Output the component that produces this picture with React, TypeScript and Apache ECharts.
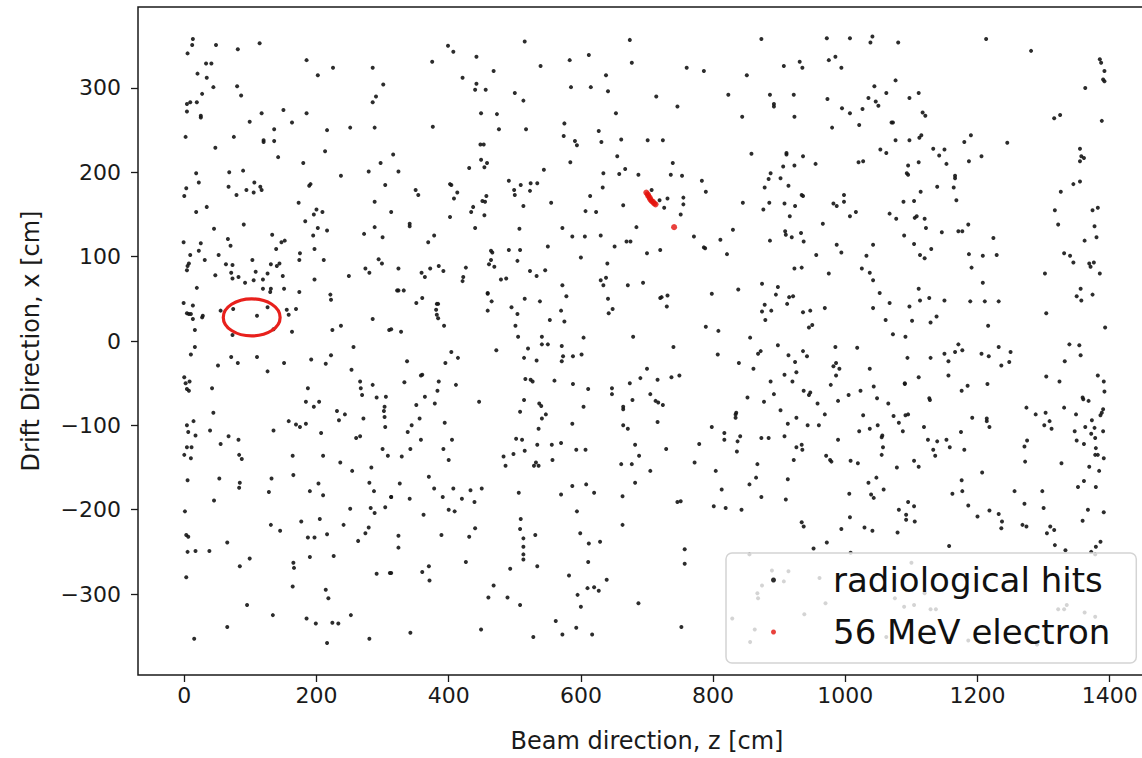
import React, { useEffect, useRef } from "react";
import * as echarts from "echarts";

const xTicks = [0, 200, 400, 600, 800, 1000, 1200, 1400];
const yTicks = [-300, -200, -100, 0, 100, 200, 300];
const xRange = [-70, 1470];
const yRange = [-396, 396];

const hitsTop: number[][] = [
  [13,358],[12,351],[48,351],[5,341],[81,346],[114,353],[33,329],[41,329],[185,333],[225,324],[202,315],[285,324],[20,317],[34,312],[301,304],[44,301],[80,302],[86,291],[27,293],[290,290],[4,281],[9,283],[19,283],[285,283],[4,272],[25,267],[25,265],[117,270],[150,274],[185,270],[99,260],[163,259],[136,251],[216,250],[251,253],[288,253],[2,242],[75,242],[120,238],[120,236],[136,237],[47,229],[213,225],[142,218],[180,211],[297,211],[18,199],[68,200],[89,202],[279,201],[237,196],[22,188],[106,188],[191,186],[189,184],[304,185],[3,181],[67,183],[115,183],[117,179],[94,179],[105,176],[79,173],[0,172],[34,159],[18,153],[173,164],[200,156],[209,153],[196,150],[288,165],[183,142],[90,138],[202,134],[288,135],[45,133],
  [399,350],[407,343],[375,331],[442,337],[515,355],[468,320],[539,326],[583,333],[612,339],[674,357],[677,330],[421,312],[442,305],[440,298],[456,298],[500,294],[513,285],[585,301],[615,301],[638,315],[641,296],[449,270],[473,269],[653,270],[376,254],[476,251],[517,251],[575,258],[574,243],[591,237],[594,232],[627,249],[631,236],[661,239],[448,233],[453,233],[316,221],[324,201],[449,215],[458,211],[454,206],[431,205],[544,203],[584,212],[655,219],[667,204],[634,199],[658,198],[687,197],[402,186],[404,185],[350,179],[354,173],[413,176],[408,169],[491,190],[499,179],[509,185],[524,187],[534,187],[500,173],[523,178],[457,172],[451,166],[455,165],[437,159],[434,153],[454,149],[402,147],[513,160],[555,164],[614,172],[633,182],[607,154],[623,153],[664,161],[341,139],[341,136],[440,134],[507,133],[572,134],[684,135],[313,153],
  [873,358],[972,359],[1007,359],[1041,361],[1038,354],[760,324],[786,320],[851,315],[907,326],[931,331],[935,324],[975,333],[985,337],[994,324],[714,290],[746,278],[823,292],[886,292],[892,281],[892,278],[922,292],[844,266],[923,266],[973,287],[995,276],[1007,270],[1026,275],[1044,302],[1035,288],[1046,284],[1050,279],[1062,294],[980,253],[1021,256],[701,238],[724,238],[858,222],[911,223],[911,221],[936,219],[923,208],[906,207],[955,210],[1020,212],[1027,213],[1053,227],[1062,223],[1070,259],[739,211],[736,197],[753,196],[783,190],[789,177],[707,179],[755,170],[731,169],[719,167],[755,162],[726,158],[751,150],[887,199],[884,192],[902,193],[878,182],[914,184],[934,173],[936,172],[845,164],[885,164],[908,163],[924,160],[876,156],[916,148],[982,163],[987,160],[998,173],[998,165],[1016,153],[1007,148],[966,139],[1067,151],
  [1080,354],[1213,358],[1281,344],[1076,309],[1097,288],[1111,294],[1117,271],[1121,267],[1072,259],[1076,238],[1097,238],[1112,241],[1115,244],[1133,228],[1142,220],[1150,227],[1153,210],[1180,236],[1190,244],[1187,213],[1206,219],[1245,235],[1111,212],[1095,208],[1093,199],[1095,197],[1166,196],[1166,193],[1139,183],[1164,182],[1114,177],[1168,167],[1088,165],[1104,166],[1077,145],[1105,146],[1108,148],[1120,145],[1122,134],[1186,138],[1385,334],[1387,330],[1392,320],[1390,310],[1392,308],[1363,300],[1316,264],[1325,268],[1388,261],[1355,228],[1357,219],[1361,217],[1355,213],[1345,186],[1355,189],[1326,177],[1317,155],[1374,155],[1382,158],[1322,138],[1377,136]
];

const hitsMiddle: number[][] = [
  [-1,117],[25,116],[22,107],[9,102],[7,92],[5,89],[4,84],[31,96],[52,102],[66,121],[70,113],[63,91],[73,90],[71,81],[82,76],[73,74],[47,78],[103,96],[108,82],[105,72],[92,69],[119,73],[126,80],[131,91],[140,89],[144,92],[133,126],[147,117],[152,119],[139,109],[149,77],[119,62],[131,62],[130,58],[151,62],[174,58],[174,96],[175,104],[195,125],[197,109],[211,96],[197,73],[216,131],[272,127],[300,123],[294,97],[299,92],[274,86],[280,81],[249,77],[221,55],[222,49],[19,63],[-1,45],[13,42],[4,33],[7,32],[10,32],[13,26],[28,30],[27,28],[55,36],[74,38],[110,30],[126,40],[155,37],[169,38],[158,31],[135,14],[163,11],[73,7],[16,13],[16,-7],[10,-16],[71,-19],[81,-26],[110,-19],[51,-29],[126,-36],[151,-26],[192,-22],[214,-27],[222,-17],[224,13],[237,18],[256,-7],[285,26],[310,13],[253,-34],[0,-43],[2,-50],[8,-48],[4,-57],[7,-59],[42,-56],[187,-56],[184,-72],[196,-78],[204,-72],[266,-48],[267,-56],[269,-64],[285,-52],[291,-67],[305,-66],[303,-78],[302,-83],[231,-83],[243,-87],[234,-94],[271,-92],[303,-90],[304,-102],[44,-85],[14,-95],[4,-100],[6,-108],[39,-106],[17,-112],[67,-113],[82,-117],[158,-95],[169,-99],[175,-102],[184,-98],[135,-106],[207,-109],[260,-115],[266,-113],[4,-126],[11,-126],[55,-122],[300,-128],
  [378,125],[369,117],[324,86],[359,81],[364,76],[372,86],[385,89],[392,83],[426,87],[422,76],[421,71],[322,60],[324,60],[332,60],[351,45],[360,51],[382,44],[384,44],[381,37],[382,31],[384,27],[393,18],[313,14],[328,11],[464,107],[466,105],[491,108],[508,108],[504,95],[464,96],[461,91],[469,88],[479,73],[487,74],[459,57],[459,56],[465,47],[459,36],[523,83],[533,77],[546,84],[550,112],[515,50],[538,47],[495,40],[504,32],[501,18],[505,5],[541,5],[541,-4],[550,-4],[520,-9],[514,-20],[533,-23],[571,-6],[573,-18],[571,-24],[588,-18],[601,-16],[604,4],[553,25],[570,36],[575,23],[578,53],[572,66],[587,124],[606,124],[630,125],[600,99],[651,112],[669,118],[675,118],[640,92],[638,75],[630,72],[634,66],[671,66],[641,50],[648,38],[642,33],[679,5],[472,-11],[404,-13],[395,-26],[414,-20],[337,-24],[360,-40],[358,-41],[333,-49],[385,-48],[383,-59],[411,-52],[364,-66],[351,-76],[379,-74],[356,-92],[344,-100],[338,-108],[394,-97],[358,-117],[405,-117],[342,-128],[392,-128],[446,-72],[516,-45],[524,-46],[527,-48],[560,-47],[588,-51],[611,-57],[514,-70],[537,-74],[540,-77],[508,-84],[547,-87],[541,-92],[536,-104],[587,-98],[604,-78],[647,-56],[647,-63],[674,-50],[678,-70],[664,-78],[664,-81],[664,-100],[671,-104],[690,-44],[502,-116],[511,-117],[534,-123],[556,-123],[570,-121],[515,-130],[593,-129],[607,-129],[682,-123],
  [771,124],[786,111],[788,110],[811,120],[821,103],[700,104],[720,108],[830,132],[886,119],[909,130],[910,126],[919,123],[933,128],[937,118],[956,102],[987,114],[994,105],[923,86],[934,87],[975,80],[1025,86],[1032,101],[1037,81],[1042,114],[1042,72],[1052,57],[1067,45],[1042,39],[1061,25],[694,69],[720,51],[722,52],[731,54],[730,41],[798,56],[838,61],[874,68],[898,64],[895,55],[915,52],[921,53],[912,44],[878,43],[874,35],[888,36],[879,25],[936,34],[947,36],[969,39],[945,16],[950,19],[789,17],[808,12],[856,4],[740,-7],[807,-16],[868,-15],[872,-12],[898,-5],[914,-17],[936,-12],[942,-18],[924,-25],[839,-26],[861,-33],[908,-40],[926,-37],[920,-48],[887,-48],[892,-63],[937,-59],[945,-64],[947,-61],[958,-74],[985,-7],[1018,-8],[986,-26],[982,-30],[991,-33],[986,-41],[978,-52],[989,-71],[1005,-64],[1023,-59],[1037,-33],[1043,-54],[1048,-68],[1065,-74],[700,-33],[716,-46],[737,-43],[749,-41],[705,-63],[713,-71],[717,-73],[724,-76],[716,-96],[852,-67],[877,-72],[902,-82],[835,-85],[834,-87],[834,-91],[798,-102],[817,-109],[817,-117],[837,-119],[841,-113],[873,-115],[884,-115],[908,-113],[913,-98],[926,-91],[943,-100],[960,-100],[969,-87],[1021,-107],[1027,-88],[1037,-104],[1049,-100],[1056,-112],[1055,-114],[989,-117],[926,-126],[934,-123],[935,-129],[836,-131],[779,-122],[729,-128],[1057,-126],
  [1089,125],[1146,129],[1171,130],[1177,130],[1224,122],[1104,115],[1113,102],[1120,98],[1130,109],[1187,103],[1208,101],[1229,102],[1191,87],[1208,69],[1111,62],[1113,48],[1127,51],[1150,48],[1189,47],[1211,47],[1232,47],[1097,41],[1138,29],[1129,22],[1101,24],[1216,18],[1072,8],[1091,5],[1094,-20],[1129,-20],[1150,-15],[1156,-24],[1166,-13],[1171,-4],[1177,-11],[1206,-15],[1217,-18],[1232,-7],[1250,-13],[1248,-25],[1236,-29],[1111,-43],[1090,-50],[1090,-51],[1156,-41],[1185,-53],[1176,-59],[1215,-51],[1127,-68],[1128,-70],[1073,-89],[1081,-97],[1091,-88],[1095,-87],[1087,-107],[1119,-102],[1192,-91],[1214,-92],[1214,-95],[1218,-102],[1175,-108],[1125,-117],[1139,-119],[1153,-117],[1158,-126],[1133,-129],[1180,-129],[1302,80],[1331,104],[1340,101],[1345,93],[1362,119],[1380,123],[1369,92],[1371,88],[1376,93],[1385,80],[1356,62],[1350,53],[1357,48],[1374,55],[1304,33],[1393,16],[1339,-4],[1354,-5],[1356,-17],[1332,-24],[1304,-42],[1324,-48],[1382,-41],[1391,-48],[1392,-60],[1359,-67],[1360,-69],[1368,-71],[1331,-79],[1349,-87],[1390,-81],[1388,-85],[1386,-88],[1373,-94],[1274,-79],[1288,-87],[1303,-85],[1309,-95],[1301,-100],[1312,-104],[1363,-102],[1377,-103],[1390,-107],[1347,-107],[1372,-110],[1378,-115],[1350,-118],[1361,-122],[1275,-118],[1271,-125],[1379,-127]
];

const hitsBottom: number[][] = [
  [0,-135],[10,-139],[83,-135],[87,-140],[164,-136],[210,-136],[236,-144],[254,-154],[283,-150],[308,-136],[5,-165],[53,-163],[84,-168],[83,-174],[132,-163],[165,-159],[128,-179],[190,-178],[203,-169],[210,-183],[280,-168],[287,-178],[313,-185],[45,-189],[1,-202],[251,-199],[282,-198],[288,-204],[304,-197],[131,-218],[145,-225],[177,-214],[205,-211],[241,-218],[216,-229],[279,-221],[274,-228],[263,-237],[187,-233],[197,-233],[3,-230],[6,-232],[65,-239],[5,-250],[17,-249],[38,-249],[99,-258],[84,-267],[165,-263],[166,-269],[190,-256],[226,-255],[291,-276],[311,-275],[3,-280],[164,-291],[214,-295],[218,-305],[95,-313],[134,-325],[185,-329],[199,-335],[224,-334],[233,-335],[252,-325],[65,-339],[15,-353],[216,-358],[280,-353],
  [329,-137],[400,-141],[483,-137],[498,-134],[486,-148],[529,-148],[536,-148],[532,-144],[557,-141],[661,-146],[677,-146],[688,-136],[370,-161],[326,-169],[313,-185],[341,-187],[378,-175],[407,-175],[433,-177],[450,-175],[391,-185],[420,-187],[439,-191],[400,-200],[409,-202],[362,-206],[506,-180],[570,-182],[587,-172],[608,-170],[620,-180],[682,-168],[663,-184],[594,-202],[509,-211],[508,-223],[513,-234],[513,-244],[513,-253],[513,-259],[531,-230],[534,-267],[493,-270],[324,-231],[324,-245],[389,-230],[431,-232],[440,-222],[426,-262],[370,-267],[360,-274],[371,-284],[313,-275],[599,-228],[612,-240],[629,-238],[611,-262],[582,-278],[639,-283],[610,-293],[620,-292],[627,-296],[595,-301],[600,-315],[663,-218],[687,-311],[468,-290],[460,-304],[489,-304],[508,-313],[562,-332],[572,-348],[593,-340],[617,-348],[528,-351],[449,-342],[342,-346],
  [705,-154],[772,-144],[804,-154],[867,-146],[865,-162],[855,-170],[913,-164],[922,-141],[971,-136],[977,-141],[979,-143],[1008,-142],[1019,-145],[1055,-135],[1047,-162],[1035,-168],[1058,-176],[1039,-182],[1043,-186],[1006,-181],[1007,-209],[994,-223],[1029,-221],[1041,-225],[972,-239],[934,-215],[937,-220],[873,-185],[910,-188],[813,-176],[746,-191],[751,-190],[801,-196],[819,-198],[843,-200],[757,-247],[757,-264],[752,-339],
  [1078,-150],[1104,-142],[1111,-149],[1136,-136],[1176,-165],[1162,-181],[1177,-178],[1207,-156],[1186,-195],[1200,-208],[1218,-201],[1232,-205],[1237,-214],[1236,-222],[1081,-200],[1095,-191],[1104,-196],[1092,-206],[1092,-212],[1105,-214],[1079,-227],[1157,-243],[1256,-178],[1271,-193],[1272,-143],[1298,-178],[1300,-198],[1268,-218],[1274,-220],[1310,-220],[1316,-224],[1305,-228],[1317,-242],[1327,-145],[1352,-173],[1361,-166],[1369,-149],[1379,-173],[1384,-154],[1378,-135],[1382,-135],[1391,-139],[1367,-200],[1359,-213],[1391,-203],[1386,-238],[1379,-244]
];

const hitsUnderLegend: number[][] = [
  [855,-253],[889,-272],[914,-273],[907,-285],[874,-290],[867,-299],[868,-305],[829,-329],[863,-342],[856,-357],[938,-324],[961,-281],[970,-311],[952,-246],[1008,-251],[1062,-351],
  [1100,-263],[1089,-315],[1104,-313],[1129,-318],[1137,-318],[1186,-355],[1290,-360],[1322,-318],[1331,-318],[1335,-313],[1362,-322],[1378,-327],[1333,-248],[1372,-250],[1378,-253],[1075,-305],[1120,-299]
];

const electronHits: number[][] = [
  [699,176],[701,174],[702,172],[704,170],[705,168],[707,166],[709,165],[711,163],[713,162],[741,135]
];

const circledHit = { x: 102, y: 28, rx: 43, ry: 22 };

const FONT = "DejaVu Sans";
const fmt = (v: number) => (v < 0 ? "\u2212" + Math.abs(v) : String(v));

export default function App() {
  const ref = useRef<HTMLDivElement>(null);
  useEffect(() => {
    document.body.style.margin = "0";
    document.body.style.overflow = "hidden";
    document.documentElement.style.overflow = "hidden";
    const chart = echarts.init(ref.current!, undefined, { renderer: "svg" });
    const hits = [...hitsTop, ...hitsMiddle, ...hitsBottom, ...hitsUnderLegend];
    chart.setOption({
      animation: false,
      backgroundColor: "#ffffff",
      grid: {
        left: 138, top: 7, right: 4, bottom: 80,
        show: true, borderColor: "#1a1a1a", borderWidth: 1.5, backgroundColor: "transparent",
      },
      xAxis: {
        type: "value", min: xRange[0], max: xRange[1],
        name: "Beam direction, z [cm]", nameLocation: "middle", nameGap: 54,
        nameTextStyle: { fontFamily: FONT, fontSize: 24, color: "#1a1a1a" },
        axisLine: { show: false, onZero: false },
        splitLine: { show: false },
        axisTick: { show: true, length: 7, inside: false, customValues: xTicks, lineStyle: { color: "#1a1a1a", width: 1.3 } },
        axisLabel: { customValues: xTicks, formatter: fmt, fontFamily: FONT, fontSize: 22, color: "#1a1a1a", margin: 9 },
      },
      yAxis: {
        type: "value", min: yRange[0], max: yRange[1],
        name: "Drift Direction, x [cm]", nameLocation: "middle", nameGap: 95,
        nameTextStyle: { fontFamily: FONT, fontSize: 24, color: "#1a1a1a" },
        axisLine: { show: false, onZero: false },
        splitLine: { show: false },
        axisTick: { show: true, length: 7, inside: false, customValues: yTicks, lineStyle: { color: "#1a1a1a", width: 1.3 } },
        axisLabel: { customValues: yTicks, formatter: fmt, fontFamily: FONT, fontSize: 22, color: "#1a1a1a", margin: 17 },
      },
      legend: {
        orient: "vertical", left: 726, top: 553,
        padding: [8, 26, 12, 45],
        itemWidth: 5, itemHeight: 5, itemGap: 14, icon: "circle",
        backgroundColor: "rgba(255,255,255,0.8)", borderColor: "#d4d4d4", borderWidth: 1.5, borderRadius: 6,
        textStyle: { fontFamily: FONT, fontSize: 34, color: "#111", lineHeight: 38, padding: [0, 0, 0, 52] },
        data: ["radiological hits", "56 MeV electron"],
        z: 5,
      },
      series: [
        {
          name: "radiological hits", type: "scatter", data: hits,
          symbol: "circle", symbolSize: 4,
          itemStyle: { color: "#151515", opacity: 0.9 },
          z: 2,
        },
        {
          name: "56 MeV electron", type: "scatter", data: electronHits,
          symbol: "circle", symbolSize: 6,
          itemStyle: { color: "#e3120b" },
          z: 3,
        },
      ],
    });
    const c = chart.convertToPixel({ gridIndex: 0 }, [circledHit.x, circledHit.y]) as number[];
    const e = chart.convertToPixel({ gridIndex: 0 }, [circledHit.x + circledHit.rx, circledHit.y + circledHit.ry]) as number[];
    chart.setOption({
      graphic: [
        {
          type: "ellipse", z: 10,
          shape: { cx: c[0], cy: c[1], rx: Math.abs(e[0] - c[0]), ry: Math.abs(c[1] - e[1]) },
          style: { fill: "none", stroke: "#e8201c", lineWidth: 3.2 },
        },
      ],
    });
    return () => chart.dispose();
  }, []);
  return <div ref={ref} style={{ width: 1160, height: 758 }} />;
}
